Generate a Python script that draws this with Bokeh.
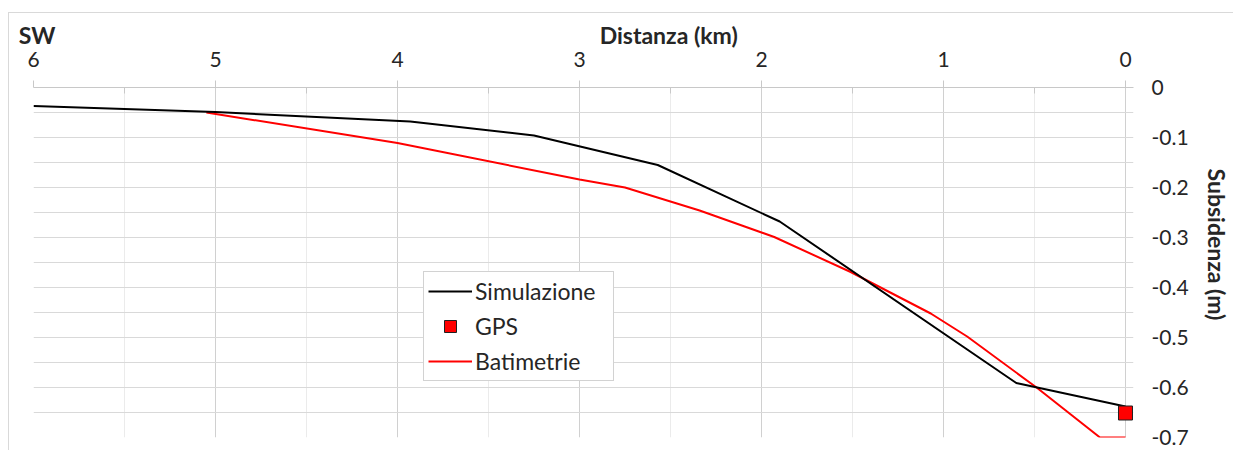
import math
from bokeh.plotting import figure
from bokeh.models import (Range1d, FixedTicker, Legend, LegendItem, LinearAxis)
from bokeh.embed import file_html
from bokeh.resources import INLINE

# --- data (distance in km, subsidence in m) ---
sim_x = [6.0, 5.0, 3.93, 3.25, 2.57, 1.90, 0.60, 0.0]
sim_y = [-0.037, -0.049, -0.068, -0.096, -0.155, -0.268, -0.591, -0.638]

bat_x = [5.05, 4.0, 3.0, 2.75, 2.34, 1.93, 1.51, 1.07, 0.87, 0.485, 0.14, 0.0]
bat_y = [-0.050, -0.111, -0.184, -0.200, -0.246, -0.299, -0.369, -0.452, -0.498, -0.601, -0.700, -0.700]

gps_x = [0.0]
gps_y = [-0.651]

x_ticks = [6, 5, 4, 3, 2, 1, 0]
x_tick_labels = ["6", "5", "4", "3", "2", "1", "0"]
x_minor = [5.5, 4.5, 3.5, 2.5, 1.5, 0.5]
y_ticks = [0, -0.1, -0.2, -0.3, -0.4, -0.5, -0.6, -0.7]
y_tick_labels = ["0", "-0.1", "-0.2", "-0.3", "-0.4", "-0.5", "-0.6", "-0.7"]
y_minor = [-0.05, -0.15, -0.25, -0.35, -0.45, -0.55, -0.65]

# header texts (placed along the top axis) and side title
header_pos = [5.98, 2.51]
header_text = ["SW", "Distanza (km)"]
side_pos = [-0.162]
side_text = ["Subsidenza (m)"]

FONT = "Lato"
TXT = "#262626"
AX = "#c8c8c8"
BORDER = "#d9d9d9"

p = figure(frame_width=1100, frame_height=350, min_border_left=33, min_border_right=100,
           min_border_top=87, min_border_bottom=13,
           x_range=Range1d(6, -0.044), y_range=Range1d(-0.7, 0),
           x_axis_location=None, y_axis_location=None,
           output_backend="svg", toolbar_location=None)
p.outline_line_color = None
p.border_fill_color = None
p.background_fill_color = "white"
p.styles = {
    "background-color": "white",
    "background-image": f"linear-gradient({BORDER},{BORDER}), linear-gradient({BORDER},{BORDER})",
    "background-size": "1px 100%, 100% 1px",
    "background-position": "8px 12px, 8px 12px",
    "background-repeat": "no-repeat",
}

# top distance axis
xaxis = LinearAxis(ticker=FixedTicker(ticks=x_ticks, minor_ticks=x_minor),
                   major_label_overrides={t: l for t, l in zip(x_ticks, x_tick_labels)})
xaxis.axis_line_color = AX
xaxis.major_tick_line_color = AX
xaxis.major_tick_out = 7
xaxis.major_tick_in = 0
xaxis.minor_tick_line_color = AX
xaxis.minor_tick_in = 6
xaxis.minor_tick_out = 0
xaxis.major_label_standoff = 14
xaxis.major_label_text_font = FONT
xaxis.major_label_text_font_size = "21px"
xaxis.major_label_text_color = TXT
p.add_layout(xaxis, "above")

# header line: "SW" and "Distanza (km)"
xaxis2 = LinearAxis(ticker=FixedTicker(ticks=header_pos, minor_ticks=[]),
                    major_label_overrides={t: l for t, l in zip(header_pos, header_text)})
xaxis2.axis_line_color = None
xaxis2.major_tick_line_color = None
xaxis2.minor_tick_line_color = None
xaxis2.major_tick_out = 0
xaxis2.major_label_standoff = 0
xaxis2.major_label_text_font = FONT
xaxis2.major_label_text_font_style = "bold"
xaxis2.major_label_text_font_size = "23px"
xaxis2.major_label_text_color = TXT
p.add_layout(xaxis2, "above")

# right subsidence axis
yaxis = LinearAxis(ticker=FixedTicker(ticks=y_ticks, minor_ticks=y_minor),
                   major_label_overrides={t: l for t, l in zip(y_ticks, y_tick_labels)})
yaxis.axis_line_color = None
yaxis.major_tick_line_color = None
yaxis.major_tick_out = 0
yaxis.major_tick_in = 0
yaxis.minor_tick_line_color = None
yaxis.major_label_standoff = 14
yaxis.major_label_text_font = FONT
yaxis.major_label_text_font_size = "21px"
yaxis.major_label_text_color = TXT
p.add_layout(yaxis, "right")

yaxis2 = LinearAxis(ticker=FixedTicker(ticks=side_pos, minor_ticks=[]),
                    major_label_overrides={t: l for t, l in zip(side_pos, side_text)})
yaxis2.axis_line_color = None
yaxis2.major_tick_line_color = None
yaxis2.minor_tick_line_color = None
yaxis2.major_tick_out = 0
yaxis2.major_label_standoff = 25
yaxis2.major_label_orientation = -math.pi / 2
yaxis2.major_label_text_font = FONT
yaxis2.major_label_text_font_style = "bold"
yaxis2.major_label_text_font_size = "23px"
yaxis2.major_label_text_color = TXT
p.add_layout(yaxis2, "right")

p.xgrid.ticker = xaxis.ticker
p.ygrid.ticker = yaxis.ticker
p.xgrid.grid_line_color = "#d0d0d0"
p.xgrid.minor_grid_line_color = "#ebebeb"
p.ygrid.grid_line_color = "#d9d9d9"
p.ygrid.minor_grid_line_color = "#d9d9d9"

r_bat = p.line(bat_x, bat_y, line_color="#ff0000", line_width=2)
r_sim = p.line(sim_x, sim_y, line_color="#000000", line_width=2)
r_gps = p.scatter(gps_x, gps_y, marker="square", size=14, fill_color="#ff0000",
                  line_color="#202020", line_width=1)

legend = Legend(items=[LegendItem(label="Simulazione", renderers=[r_sim]),
                       LegendItem(label="GPS", renderers=[r_gps]),
                       LegendItem(label="Batimetrie", renderers=[r_bat])],
                location=(390, 56))
legend.label_text_font = FONT
legend.label_text_font_size = "23px"
legend.label_text_color = TXT
legend.glyph_width = 44
legend.glyph_height = 30
legend.label_height = 30
legend.label_width = 134
legend.label_standoff = 3
legend.spacing = 5
legend.padding = 4
legend.border_line_color = "#a6a6a6"
legend.border_line_width = 1
legend.background_fill_alpha = 1
p.add_layout(legend, "center")

open("out.html", "w").write(file_html(p, INLINE))
